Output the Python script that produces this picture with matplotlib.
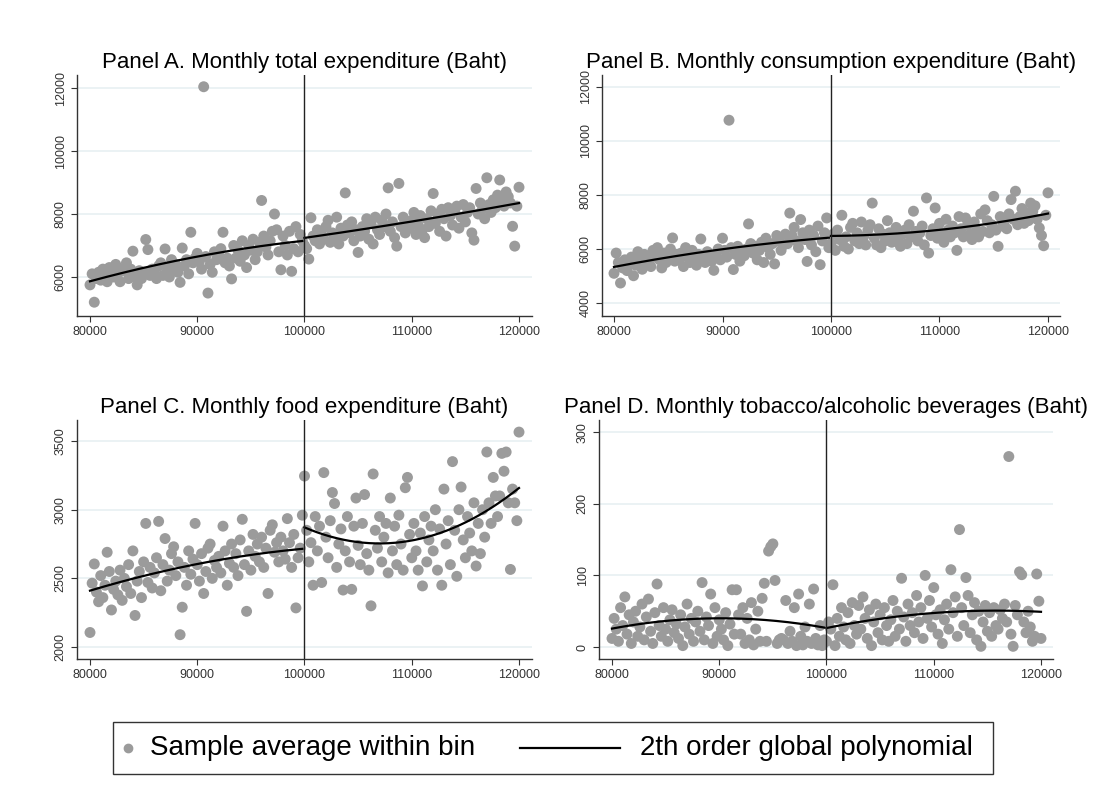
import numpy as np
import matplotlib
matplotlib.use("Agg")
import matplotlib.pyplot as plt
from matplotlib.lines import Line2D
from matplotlib.patches import Rectangle

plt.rcParams['font.family'] = ['Liberation Sans', 'DejaVu Sans']

# bins: 80000 .. 120000, step 200 (cutoff at 100000)
CUTOFF = 100000
x_left = np.arange(80000, 100000, 200)
x_right = np.arange(100000, 120001, 200)

# Panel A - monthly total expenditure
a_left = [5750, 6100, 5200, 5950, 6150, 5900, 6250, 6050, 5850, 6300,
          6150, 6000, 6400, 6100, 5850, 6250, 6200, 6450, 5950, 6250,
          6820, 6000, 5750, 6200, 5950, 6150, 7190, 6870, 6050, 6250,
          6150, 5950, 6350, 6450, 6050, 6890, 6300, 6000, 6550, 6200,
          6400, 6150, 5830, 6920, 6350, 6550, 6100, 7420, 6450, 6600,
          6750, 6500, 6250, 12040, 6650, 5490, 6400, 6150, 6800, 6550,
          6700, 6900, 7420, 6450, 6600, 6350, 5940, 7000, 6600, 6850,
          6500, 7150, 6700, 6300, 7000, 6850, 7200, 6550, 6800, 7100,
          8430, 7300, 6950, 6700, 7150, 7450, 8000, 7500, 6800, 6230,
          7300, 7000, 6700, 7450, 6180, 6900, 7600, 6800, 7350, 7150]
a_right = [7000, 6900, 6570, 7880, 7300, 7150, 7500, 7050, 7350, 7200,
           7600, 7800, 7100, 7400, 7250, 7900, 7050, 7550, 7300, 8670,
           7650, 7400, 7750, 7150, 7500, 6780, 7300, 7600, 7450, 7850,
           7200, 7700, 7050, 7900, 7500, 7350, 7800, 7600, 8000, 8830,
           7450, 7750, 7250, 6980, 8970, 7600, 7900, 7400, 7700, 7550,
           7800, 8050, 7350, 7650, 7950, 7500, 7250, 7850, 7600, 8100,
           8650, 7700, 8000, 7450, 8150, 7850, 7300, 8200, 7950, 7650,
           8100, 8250, 7550, 7900, 8300, 7750, 8050, 8200, 7400, 7170,
           8810, 8000, 8350, 8150, 7850, 9150, 8300, 8050, 8450, 8200,
           8600, 9080, 8400, 8250, 8700, 8550, 8350, 7610, 6980, 8250,
           8850]

# Panel B - monthly consumption expenditure
b_left = [5100, 5850, 5500, 4740, 5300, 5600, 5200, 5450, 5700, 5010,
          5400, 5900, 5600, 5250, 5800, 5500, 5650, 5350, 5950, 5700,
          6050, 5600, 5300, 5850, 5500, 5750, 6000, 6410, 5550, 5800,
          5600, 5850, 5350, 6050, 5700, 5500, 5950, 5750, 5400, 5800,
          6370, 5650, 5500, 5900, 5750, 5550, 5210, 5800, 6000, 5600,
          6400, 5950, 5700, 10770, 6050, 5240, 5800, 6100, 5550, 5900,
          5750, 6000, 6930, 6200, 5850, 6100, 5600, 5950, 6250, 5500,
          6400, 6050, 5800, 6200, 5450, 6500, 6300, 5950, 6150, 6550,
          6200, 7330, 6500, 6800, 6300, 6050, 7090, 6600, 6350, 5540,
          6700, 6150, 6500, 5900, 6850, 5420, 6300, 6600, 7150, 6050]
b_right = [6200, 6550, 5950, 6700, 6350, 7250, 6100, 6450, 6000, 6800,
           6950, 6300, 6600, 6200, 7000, 6450, 6150, 6700, 6900, 7700,
           6400, 6150, 6750, 6050, 6550, 6300, 7050, 6600, 6250, 6450,
           6800, 6350, 6100, 6550, 6700, 6200, 6900, 6450, 7400, 6650,
           6300, 6600, 6850, 6150, 7890, 5850, 6500, 6750, 7520, 6400,
           6950, 6600, 6250, 7100, 6700, 6450, 6850, 6600, 5950, 7200,
           6750, 6450, 7150, 6900, 6550, 6350, 7000, 6700, 6450, 7300,
           6650, 7450, 7050, 6600, 6900, 7950, 6700, 6100, 7200, 6850,
           7050, 6750, 7300, 7830, 7100, 8140, 6900, 7200, 7500, 6950,
           7350, 7050, 7700, 7400, 7600, 7100, 6780, 6500, 6120, 7250,
           8080]

# Panel C - monthly food expenditure
c_left = [2106, 2465, 2605, 2400, 2330, 2520, 2360, 2450, 2690, 2550,
          2270, 2420, 2480, 2380, 2560, 2340, 2500, 2440, 2600, 2390,
          2700, 2230, 2480, 2550, 2360, 2620, 2900, 2470, 2580, 2430,
          2540, 2650, 2915, 2410, 2600, 2790, 2480, 2560, 2680, 2730,
          2520, 2620, 2090, 2290, 2580, 2450, 2700, 2530, 2640, 2900,
          2600, 2480, 2680, 2390, 2550, 2720, 2750, 2500, 2630, 2580,
          2660, 2540, 2880, 2700, 2450, 2610, 2750, 2580, 2680, 2520,
          2780, 2930, 2600, 2260, 2700, 2560, 2820, 2660, 2750, 2620,
          2800, 2580, 2720, 2390, 2850, 2890, 2690, 2760, 2620, 2800,
          2700, 2640, 2935, 2760, 2580, 2820, 2285, 2650, 2720, 2960]
c_right = [3245, 2850, 2620, 2760, 2450, 2950, 2700, 2880, 2470, 3270,
           2800, 2650, 2920, 3125, 3045, 2580, 2750, 2860, 2415, 2700,
           2950, 2620, 2420, 2880, 3085, 2740, 2600, 2900, 3110, 2680,
           2560, 2300, 3260, 2850, 2720, 2950, 2620, 2800, 2900, 2540,
           3085, 2700, 2880, 2600, 2960, 2750, 2560, 3160, 3235, 2820,
           2650, 2900, 2700, 2560, 2830, 2445, 2950, 2620, 2780, 2880,
           2700, 3000, 2560, 2860, 2450, 3150, 2750, 2920, 2600, 3350,
           2850, 2515, 3000, 3165, 2780, 2650, 2950, 2830, 2700, 3050,
           2590, 2900, 2680, 3000, 2800, 3420, 3050, 2900, 3235, 3100,
           2950, 3100, 3410, 3280, 3420, 3050, 2565, 3150, 3050, 2920,
           3565]

# Panel D - monthly tobacco/alcoholic beverages
d_left = [12, 40, 25, 8, 55, 30, 70, 18, 45, 5,
          35, 50, 15, 28, 60, 10, 42, 67, 22, 5,
          48, 88, 30, 15, 55, 25, 8, 38, 52, 20,
          32, 12, 45, 2, 28, 60, 18, 40, 8, 35,
          50, 22, 90, 10, 42, 30, 74, 5, 55, 15,
          38, 25, 10, 48, 2, 32, 80, 18, 80, 45,
          18, 55, 5, 40, 10, 62, 3, 25, 50, 8,
          68, 89, 8, 134, 140, 144, 93, 5, 10, 12,
          10, 65, 5, 22, 8, 55, 2, 74, 15, 3,
          28, 8, 60, 5, 81, 12, 3, 30, 2, 10]
d_right = [8, 35, 25, 87, 2, 40, 15, 55, 28, 10,
           48, 5, 62, 30, 18, 58, 25, 70, 40, 12,
           52, 2, 35, 60, 20, 45, 10, 55, 30, 8,
           38, 65, 15, 50, 25, 96, 42, 8, 60, 30,
           48, 20, 72, 35, 55, 12, 100, 40, 65, 28,
           83, 45, 18, 52, 5, 38, 60, 25, 108, 48,
           70, 15, 164, 55, 30, 97, 72, 20, 45, 62,
           10, 50, 1, 35, 58, 22, 48, 15, 55, 30,
           25, 52, 40, 60, 35, 266, 18, 1, 58, 45,
           105, 101, 35, 20, 50, 28, 8, 15, 102, 64,
           12]

titles = ["Panel A. Monthly total expenditure (Baht)",
          "Panel B. Monthly consumption expenditure (Baht)",
          "Panel C. Monthly food expenditure (Baht)",
          "Panel D. Monthly tobacco/alcoholic beverages (Baht)"]
xticks = [80000, 90000, 100000, 110000, 120000]
legend_labels = ["Sample average within bin", "2th order global polynomial"]

DOT = '#9b9b9b'
GRID = '#e8f0f2'
W, H = 1099, 796

fig = plt.figure(figsize=(W / 100, H / 100), dpi=100)


def fx(px):
    return px / W


def fy(py):
    return 1 - py / H


def add_ax(x0, y0, x1, y1):
    # pixel box (top-left origin) -> figure coords
    return fig.add_axes([fx(x0), fy(y1), (x1 - x0) / W, (y1 - y0) / H])


panels = [
    (add_ax(77, 75, 532, 316), a_left, a_right, (4762, 12413), [6000, 8000, 10000, 12000], (78788, 121212)),
    (add_ax(602, 75, 1060, 316), b_left, b_right, (3519, 12444), [4000, 6000, 8000, 10000, 12000], (78894, 121106)),
    (add_ax(77, 420, 532, 659), c_left, c_right, (1913, 3653), [2000, 2500, 3000, 3500], (78788, 121212)),
    (add_ax(599, 420, 1053, 659), d_left, d_right, (-16.7, 317), [0, 100, 200, 300], (78788, 121119)),
]

for (ax, yl, yr, ylim, yticks, xlim), title in zip(panels, titles):
    ax.set_axisbelow(True)
    ax.scatter(np.r_[x_left, x_right], np.r_[yl, yr], s=62, color=DOT,
               edgecolors='none', zorder=2)
    # second order polynomial fitted on each side of the cutoff
    for xs, ys in ((x_left, yl), (x_right, yr)):
        coef = np.polyfit(xs, ys, 2)
        grid = np.linspace(xs.min(), xs.max(), 200)
        ax.plot(grid, np.polyval(coef, grid), color='black', lw=1.6, zorder=3)
    ax.axvline(CUTOFF, color='#222222', lw=1.0, zorder=4)

    ax.set_xlim(*xlim)
    ax.set_ylim(*ylim)
    ax.set_xticks(xticks)
    ax.set_yticks(yticks)
    ax.grid(axis='y', color=GRID, lw=1.2)
    for s in ('top', 'right'):
        ax.spines[s].set_visible(False)
    for s in ('left', 'bottom'):
        ax.spines[s].set_color('#333333')
        ax.spines[s].set_linewidth(1.0)
    ax.tick_params(axis='both', labelsize=9, colors='#333333', length=4, width=0.8)
    for lab in ax.get_yticklabels():
        lab.set_rotation(90)
        lab.set_va('center')
    ax.set_title(title, fontsize=16, pad=5)

# legend drawn by hand so the marker and line keys get their own widths
fig.patches.append(Rectangle((fx(113), fy(774)), (993 - 113) / W, (774 - 722) / H,
                             transform=fig.transFigure, fill=False,
                             edgecolor='#333333', lw=1.0))
fig.lines.append(Line2D([fx(128)], [fy(748)], marker='o', color=DOT, ls='none',
                        markersize=6, transform=fig.transFigure))
fig.lines.append(Line2D([fx(520), fx(620)], [fy(748), fy(748)], color='black',
                        lw=1.6, transform=fig.transFigure))
fig.text(fx(150), fy(748), legend_labels[0], fontsize=20, va='center', ha='left')
fig.text(fx(640), fy(748), legend_labels[1], fontsize=20, va='center', ha='left')

fig.savefig('out.png', dpi=100)
